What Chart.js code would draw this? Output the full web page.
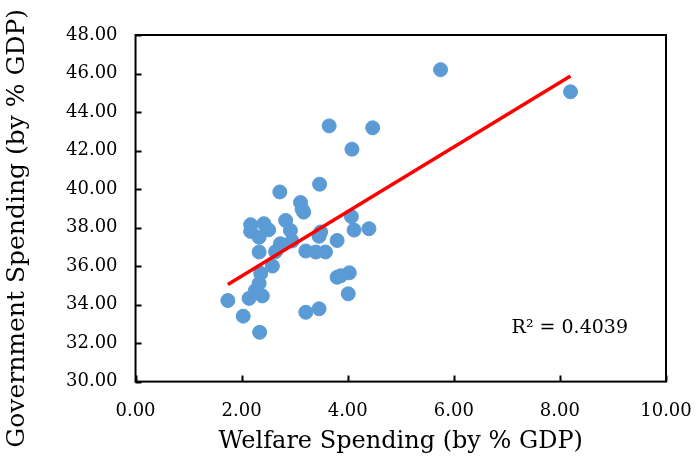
<!DOCTYPE html>
<html>
<head>
<meta charset="utf-8">
<script src="https://cdn.jsdelivr.net/npm/chart.js@4"></script>
<style>
  html, body { margin: 0; padding: 0; background: #fff; }
  #wrap { width: 696px; height: 462px; }
</style>
</head>
<body>
<div id="wrap"><canvas id="spendChart"></canvas></div>
<script>
// welfare spending vs government spending, both as % of GDP
const welfare = [
    5.75, 8.20, 3.65, 4.47, 4.08, 3.47, 2.72, 3.11, 3.14, 3.17,
    2.83, 2.17, 2.42, 4.07, 2.17, 2.51, 2.33, 2.92, 3.49, 3.46,
    4.12, 4.40, 3.80, 2.73, 2.95, 2.33, 2.64, 3.21, 3.40, 3.58,
    2.58, 2.36, 2.33, 2.26, 2.14, 2.39, 1.74, 2.03, 2.34, 3.21,
    3.46, 3.80, 3.87, 4.03, 4.01
];
const government = [
    46.20, 45.05, 43.28, 43.18, 42.07, 40.25, 39.85, 39.30, 38.95, 38.80,
    38.37, 38.15, 38.20, 38.57, 37.80, 37.88, 37.50, 37.85, 37.77, 37.55,
    37.87, 37.94, 37.33, 37.16, 37.30, 36.73, 36.75, 36.78, 36.73, 36.73,
    36.00, 35.62, 35.10, 34.73, 34.32, 34.45, 34.21, 33.40, 32.56, 33.60,
    33.78, 35.42, 35.50, 35.65, 34.56
];

// linear trend endpoints and fit quality
const trendX = [1.74, 8.20];
const trendY = [35.04, 45.87];
const rSquared = '0.4039';

const xTicks = [0, 2, 4, 6, 8, 10];
const yTicks = [30, 32, 34, 36, 38, 40, 42, 44, 46, 48];

const xTitle = 'Welfare Spending (by % GDP)';
const yTitle = 'Government Spending (by % GDP)';

const serif = "'DejaVu Serif', serif";

const points = welfare.map((x, i) => ({ x: x, y: government[i] }));
const trend = trendX.map((x, i) => ({ x: x, y: trendY[i] }));

// box around the plot, inward tick marks, y title and the R² note
const frame = {
    id: 'frame',
    afterDraw(chart) {
        const { ctx, chartArea: a, scales } = chart;
        ctx.save();
        ctx.strokeStyle = '#000';
        ctx.lineWidth = 2;
        ctx.strokeRect(a.left, a.top, a.right - a.left, a.bottom - a.top);
        ctx.beginPath();
        yTicks.forEach(v => {
            const y = Math.round(scales.y.getPixelForValue(v)) + 0.5;
            ctx.moveTo(a.left, y);
            ctx.lineTo(a.left + 6, y);
        });
        xTicks.forEach(v => {
            const x = Math.round(scales.x.getPixelForValue(v)) + 0.5;
            ctx.moveTo(x, a.bottom);
            ctx.lineTo(x, a.bottom - 6);
        });
        ctx.stroke();

        ctx.fillStyle = '#000';
        ctx.font = "19px " + serif;
        ctx.textAlign = 'right';
        ctx.textBaseline = 'middle';
        ctx.fillText('R² = ' + rSquared, a.right - 38, a.bottom - 54);

        // axis title sits a little below the plot's centre line
        ctx.font = "25px " + serif;
        ctx.textAlign = 'center';
        ctx.translate(17, (a.top + a.bottom) / 2 + 20);
        ctx.rotate(-Math.PI / 2);
        ctx.fillText(yTitle, 0, 0);
        ctx.restore();
    }
};

new Chart(document.getElementById('spendChart'), {
    type: 'scatter',
    data: {
        datasets: [
            {
                label: 'Trend',
                type: 'line',
                data: trend,
                borderColor: '#ff0000',
                borderWidth: 3.5,
                pointRadius: 0,
                fill: false,
                order: 0
            },
            {
                label: 'States',
                data: points,
                backgroundColor: '#5b9bd5',
                borderColor: '#5b9bd5',
                borderWidth: 1,
                pointRadius: 7,
                order: 1
            }
        ]
    },
    options: {
        responsive: true,
        maintainAspectRatio: false,
        animation: false,
        layout: {
            padding: { top: 35, right: 0, bottom: 6, left: 48 }
        },
        plugins: {
            legend: { display: false },
            tooltip: { enabled: false }
        },
        scales: {
            x: {
                type: 'linear',
                min: 0,
                max: 10,
                afterBuildTicks: s => { s.ticks = xTicks.map(v => ({ value: v })); },
                // the last label may hang past the plot edge
                afterFit: s => { s.paddingRight = 30; },
                grid: { display: false, drawTicks: false },
                border: { display: false },
                ticks: {
                    padding: 19,
                    color: '#000',
                    font: { family: serif, size: 18 },
                    callback: v => Number(v).toFixed(2)
                },
                title: {
                    display: true,
                    text: xTitle,
                    color: '#000',
                    font: { family: serif, size: 24 },
                    padding: { top: -14, bottom: 0 }
                }
            },
            y: {
                type: 'linear',
                min: 30,
                max: 48,
                afterBuildTicks: s => { s.ticks = yTicks.map(v => ({ value: v })); },
                grid: { display: false, drawTicks: false },
                border: { display: false },
                ticks: {
                    padding: 18,
                    color: '#000',
                    font: { family: serif, size: 18 },
                    callback: v => Number(v).toFixed(2)
                }
            }
        }
    },
    plugins: [frame]
});
</script>
</body>
</html>
